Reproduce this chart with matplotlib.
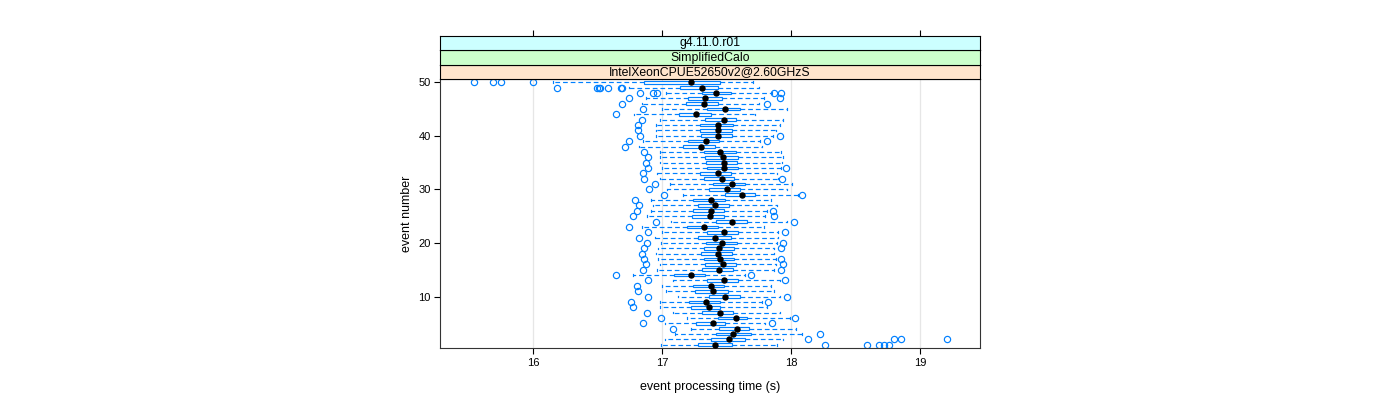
import matplotlib
matplotlib.use("Agg")
import matplotlib.pyplot as plt

plt.rcParams['font.family'] = ['Liberation Sans', 'DejaVu Sans']

# ---- data (event 1 .. 50) ----
events = list(range(1, 51))
whisker_lo = [16.99, 17.02, 17.10, 17.22, 17.02, 17.19, 17.08, 16.98, 16.98, 17.12,
              17.03, 17.00, 17.08, 16.77, 16.96, 16.98, 16.97, 16.95, 16.97, 16.99,
              16.94, 17.00, 16.84, 17.07, 16.88, 16.91, 16.93, 16.91, 17.16, 17.04,
              17.06, 16.98, 16.96, 17.00, 16.98, 16.98, 16.98, 16.82, 16.85, 16.95,
              16.95, 16.95, 16.98, 16.78, 17.00, 16.84, 16.87, 17.03, 16.74, 16.15]
q1 = [17.28, 17.38, 17.42, 17.44, 17.26, 17.43, 17.31, 17.22, 17.21, 17.36,
      17.25, 17.24, 17.35, 17.09, 17.31, 17.33, 17.32, 17.30, 17.32, 17.34,
      17.28, 17.35, 17.19, 17.42, 17.23, 17.24, 17.28, 17.24, 17.49, 17.36,
      17.39, 17.32, 17.29, 17.35, 17.34, 17.33, 17.32, 17.16, 17.20, 17.30,
      17.29, 17.29, 17.33, 17.13, 17.35, 17.18, 17.20, 17.31, 17.14, 16.86]
median = [17.41, 17.52, 17.55, 17.58, 17.39, 17.57, 17.45, 17.36, 17.34, 17.49,
          17.39, 17.38, 17.48, 17.22, 17.44, 17.47, 17.45, 17.43, 17.44, 17.46,
          17.41, 17.48, 17.32, 17.54, 17.37, 17.38, 17.41, 17.38, 17.62, 17.50,
          17.54, 17.46, 17.43, 17.48, 17.48, 17.47, 17.45, 17.30, 17.34, 17.43,
          17.43, 17.43, 17.48, 17.26, 17.49, 17.32, 17.33, 17.42, 17.31, 17.22]
q3 = [17.54, 17.64, 17.69, 17.67, 17.49, 17.66, 17.55, 17.45, 17.45, 17.60,
      17.51, 17.48, 17.59, 17.33, 17.55, 17.57, 17.56, 17.54, 17.56, 17.58,
      17.53, 17.59, 17.43, 17.66, 17.48, 17.48, 17.52, 17.49, 17.72, 17.60,
      17.64, 17.56, 17.53, 17.59, 17.58, 17.59, 17.57, 17.41, 17.44, 17.54,
      17.54, 17.55, 17.57, 17.38, 17.60, 17.43, 17.46, 17.53, 17.43, 17.45]
whisker_hi = [17.89, 17.94, 18.08, 18.04, 17.80, 17.99, 17.91, 17.81, 17.77, 17.91,
              17.87, 17.84, 17.91, 17.64, 17.87, 17.88, 17.88, 17.87, 17.87, 17.89,
              17.90, 17.90, 17.79, 17.97, 17.80, 17.81, 17.89, 17.84, 18.05, 17.97,
              18.01, 17.90, 17.89, 17.92, 17.93, 17.94, 17.92, 17.77, 17.76, 17.86,
              17.88, 17.91, 17.94, 17.72, 17.97, 17.75, 17.79, 17.85, 17.75, 17.70]
outliers = [
    [18.26, 18.59, 18.68, 18.72, 18.76],
    [18.13, 18.80, 18.85, 19.21],
    [18.22],
    [17.08],
    [16.85, 17.85],
    [16.99, 18.03],
    [16.88],
    [16.77],
    [16.76, 17.82],
    [16.89, 17.97],
    [16.81],
    [16.80],
    [16.89, 17.95],
    [16.64, 17.69],
    [16.85, 17.92],
    [16.87, 17.94],
    [16.86, 17.92],
    [16.84],
    [16.86, 17.92],
    [16.88, 17.94],
    [16.82],
    [16.89, 17.95],
    [16.74],
    [16.95, 18.02],
    [16.77, 17.87],
    [16.80, 17.86],
    [16.82],
    [16.79],
    [17.01, 18.08],
    [16.90],
    [16.94],
    [16.86, 17.93],
    [16.85],
    [16.89, 17.96],
    [16.87],
    [16.89],
    [16.86],
    [16.71],
    [16.74, 17.81],
    [16.83, 17.91],
    [16.81],
    [16.81],
    [16.84],
    [16.64],
    [16.85],
    [16.69, 17.81],
    [16.74, 17.91],
    [16.83, 16.93, 16.96, 17.87, 17.92],
    [16.18, 16.49, 16.51, 16.52, 16.58, 16.68, 16.69],
    [15.54, 15.69, 15.75, 16.00],
]
x_ticks = [16, 17, 18, 19]
y_ticks = [10, 20, 30, 40, 50]
strip_labels = ["IntelXeonCPUE52650v2@2.60GHzS", "SimplifiedCalo", "g4.11.0.r01"]
strip_colors = ["#ffe5cc", "#ccffcc", "#ccffff"]
x_label = "event processing time (s)"
y_label = "event number"

BLUE = "#0080ff"
W, H = 1400, 400

fig = plt.figure(figsize=(14, 4), dpi=100)

def fx(px):
    return px / W

def fy(py):
    return 1 - py / H

ax = fig.add_axes([fx(440), fy(348), fx(540), (348 - 79) / H])

stats = []
for i, e in enumerate(events):
    stats.append(dict(whislo=whisker_lo[i], q1=q1[i], med=median[i], q3=q3[i],
                      whishi=whisker_hi[i], fliers=outliers[i]))

ax.bxp(stats, positions=events, orientation='horizontal', widths=0.5,
       capwidths=0.3, showfliers=True, patch_artist=True, manage_ticks=False,
       boxprops=dict(facecolor='white', edgecolor=BLUE, linewidth=0.85),
       whiskerprops=dict(color=BLUE, linewidth=0.85, linestyle=(0, (4, 2.5))),
       capprops=dict(color=BLUE, linewidth=0.85),
       medianprops=dict(linestyle='none', linewidth=0),
       flierprops=dict(marker='o', markerfacecolor='none', markeredgecolor=BLUE,
                       markersize=4.5, markeredgewidth=0.85, linestyle='none'))
ax.plot(median, events, 'o', color='black', markersize=3.6, zorder=5)

for v in x_ticks:
    ax.axvline(v, color='#e6e6e6', linewidth=0.9, zorder=0)

ax.set_xlim(15.275, 19.465)
ax.set_ylim(0.4, 50.6)
ax.set_xticks(x_ticks)
ax.set_xticklabels([str(t) for t in x_ticks])
ax.set_yticks(y_ticks)
ax.set_yticklabels([str(t) for t in y_ticks])
ax.tick_params(axis='both', direction='out', length=4.3, width=0.8,
               labelsize=8, colors='black')
ax.tick_params(axis='x', pad=3)
ax.tick_params(axis='y', pad=2.5)
for s in ax.spines.values():
    s.set_color('#333333')
    s.set_linewidth(0.8)

# strips
strip_top = 36
strip_bottom = 79
sh = (strip_bottom - strip_top) / 3.0
for k, (lab, col) in enumerate(zip(strip_labels, strip_colors)):
    bot_px = strip_bottom - k * sh
    sax = fig.add_axes([fx(440), fy(bot_px), fx(540), sh / H], sharex=ax)
    sax.set_facecolor(col)
    sax.set_ylim(0, 1)
    sax.tick_params(axis='both', which='both', bottom=False, left=False,
                    labelbottom=False, labelleft=False)
    if k == 2:
        sax.tick_params(axis='x', top=True, direction='out', length=4.3,
                        width=0.8, labeltop=False)
    for s in sax.spines.values():
        s.set_color('black')
        s.set_linewidth(0.8)
    sax.text(0.5, 0.5, lab, transform=sax.transAxes, ha='center', va='center',
             fontsize=8.8)

fig.text(fx(710), fy(387), x_label, ha='center', va='center', fontsize=9)
fig.text(fx(407), fy(213.5), y_label, ha='center', va='center', fontsize=9,
         rotation=90)

fig.savefig("out.png", dpi=100)
